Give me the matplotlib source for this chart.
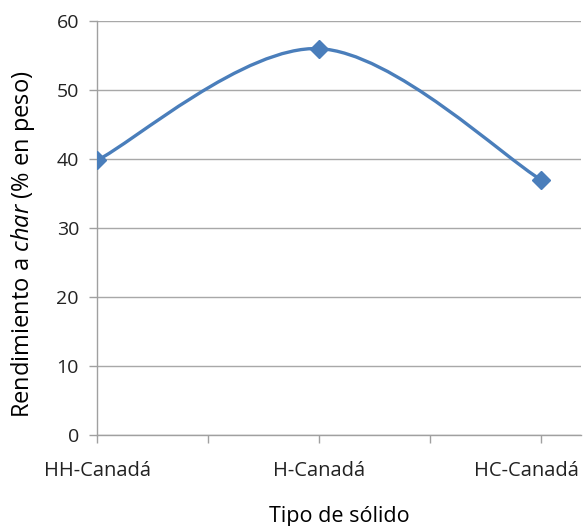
import matplotlib
matplotlib.use("Agg")
import matplotlib.pyplot as plt
from matplotlib.path import Path
from matplotlib.patches import PathPatch
from matplotlib.transforms import ScaledTranslation
import numpy as np

categories = ["HH-Canadá", "H-Canadá", "HC-Canadá"]
values = [39.8, 56.0, 37.0]
yticks = [0, 10, 20, 30, 40, 50, 60]

plt.rcParams['font.family'] = ['Open Sans', 'DejaVu Sans']
plt.rcParams['mathtext.fontset'] = 'custom'
plt.rcParams['mathtext.it'] = 'Open Sans:italic'
plt.rcParams['mathtext.rm'] = 'Open Sans'

fig = plt.figure(figsize=(5.88, 5.26), dpi=100)
ax = fig.add_axes([0.165, 0.173, 0.823, 0.787])

x = np.arange(len(categories), dtype=float)
y = np.array(values, dtype=float)

# Excel-like smoothed line using cubic Bezier segments
pts = np.column_stack([x, y])
verts = [pts[0]]
codes = [Path.MOVETO]
n = len(pts)
for i in range(n - 1):
    p0 = pts[i - 1] if i > 0 else pts[i]
    p1 = pts[i]
    p2 = pts[i + 1]
    p3 = pts[i + 2] if i + 2 < n else pts[i + 1]
    c1 = p1 + (p2 - p0) / 6.0
    c2 = p2 - (p3 - p1) / 6.0
    verts += [c1, c2, p2]
    codes += [Path.CURVE4] * 3
ax.add_patch(PathPatch(Path(verts, codes), facecolor='none', edgecolor='#4a7ebb', lw=2.4, zorder=3))
ax.plot(x, y, linestyle='none', marker='D', markersize=9.5, color='#4a7ebb', zorder=4)

ax.set_xlim(0, 2.18)
ax.set_ylim(0, 60)
ax.set_yticks(yticks)
ax.set_xticks([0, 0.5, 1, 1.5, 2])
ax.set_xticklabels([categories[0], "", categories[1], "", categories[2]])
ax.tick_params(axis='both', colors='#a0a0a0', labelcolor='#222222', length=6, width=1)
ax.tick_params(axis='x', pad=13, labelsize=14.5)
ax.tick_params(axis='y', pad=7, labelsize=14)
ax.yaxis.grid(True, color='#a8a8a8', lw=1)
ax.set_axisbelow(True)
for s in ['top', 'right']:
    ax.spines[s].set_visible(False)
for s in ['left', 'bottom']:
    ax.spines[s].set_color('#a0a0a0')
    ax.spines[s].set_linewidth(1)

# shift last category label left so it fits inside the figure
last = ax.get_xticklabels()[-1]
last.set_transform(last.get_transform() + ScaledTranslation(-0.15, 0, fig.dpi_scale_trans))

ax.set_ylabel(r"Rendimiento a $\it{char}$ (% en peso)", fontsize=17, color='black')
ax.yaxis.set_label_coords(-0.124, 0.46)
ax.set_xlabel("Tipo de sólido", fontsize=15.5, color='black', labelpad=18)

fig.savefig("out.png", dpi=100)
